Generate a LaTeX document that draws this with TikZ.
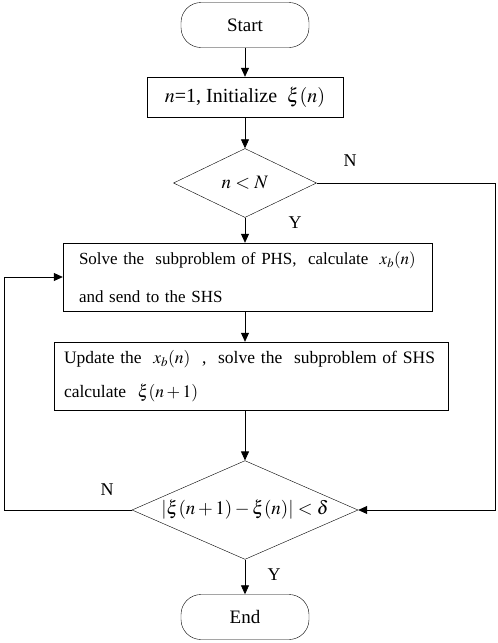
\documentclass[tikz,border=0pt]{standalone}
\usepackage{mathptmx}
\usepackage{fontspec}
\setmainfont{Liberation Serif}
\usetikzlibrary{arrows.meta,shapes.geometric}
\begin{document}
\begin{tikzpicture}[x=1pt,y=-1pt,
  every node/.style={font=\fontsize{19}{22}\selectfont},
  term/.style={draw,rounded corners=20pt,minimum width=128pt,minimum height=45pt,inner sep=0pt},
  proc/.style={draw,inner sep=0pt},
  dec/.style={draw,diamond,aspect=2.1,inner sep=0pt},
  lab/.style={inner sep=0pt,font=\fontsize{18}{20}\selectfont},
  flow/.style={line width=0.8pt,-{Triangle[length=9pt,width=8pt]}},
  line/.style={line width=0.8pt}]
\useasboundingbox (0,0) rectangle (498,643);
\node[term] (start) at (245,25) {Start};
\node[proc,minimum width=196pt,minimum height=40pt,font=\fontsize{20}{22}\selectfont] (init) at (245,97) {$n$=1, Initialize \ $\xi(n)$};
\node[dec,minimum width=143pt,minimum height=69pt] (d1) at (245,183) {$n<N$};
\node[proc,text width=337pt,inner xsep=16pt,minimum height=68pt,align=left,
  font=\fontsize{17}{38}\selectfont] (phs) at (247.5,277)
  {Solve the \ subproblem of PHS, \ calculate \ $x_b(n)$\\and send to the SHS};
\node[proc,text width=374pt,inner xsep=10pt,minimum height=68pt,align=left,
  font=\fontsize{17.5}{34}\selectfont] (shs) at (251,376)
  {\mbox{Update the \ $x_b(n)$ \ , \ solve the \ subproblem of SHS}\\calculate \ $\xi(n+1)$};
\node[dec,minimum width=226pt,minimum height=98pt] (d2) at (245,510)
  {$\left|\xi(n+1)-\xi(n)\right|<\delta$};
\node[term] (end) at (245,617) {End};
\coordinate (r1) at (495,183);
\coordinate (r2) at (495,510);
\coordinate (l1) at (4,510);
\coordinate (l2) at (4,277);
\draw[flow] (start) -- (init);
\draw[flow] (init) -- (d1);
\draw[flow] (d1.south) -- (d1.south |- phs.north);
\draw[flow] (d1.south |- phs.south) -- (d1.south |- shs.north);
\draw[flow] (d2.north |- shs.south) -- (d2.north);
\draw[flow] (d2) -- (end);
\draw[flow] (d1.east) -- (r1) -- (r2) -- (d2.east);
\draw[flow] (d2.west) -- (l1) -- (l2) -- (phs.west);
\node[lab] (n1) at (350,161) {N};
\node[lab] (y1) at (295,223) {Y};
\node[lab] (n2) at (107,490) {N};
\node[lab] (y2) at (274,575) {Y};
\end{tikzpicture}
\end{document}
